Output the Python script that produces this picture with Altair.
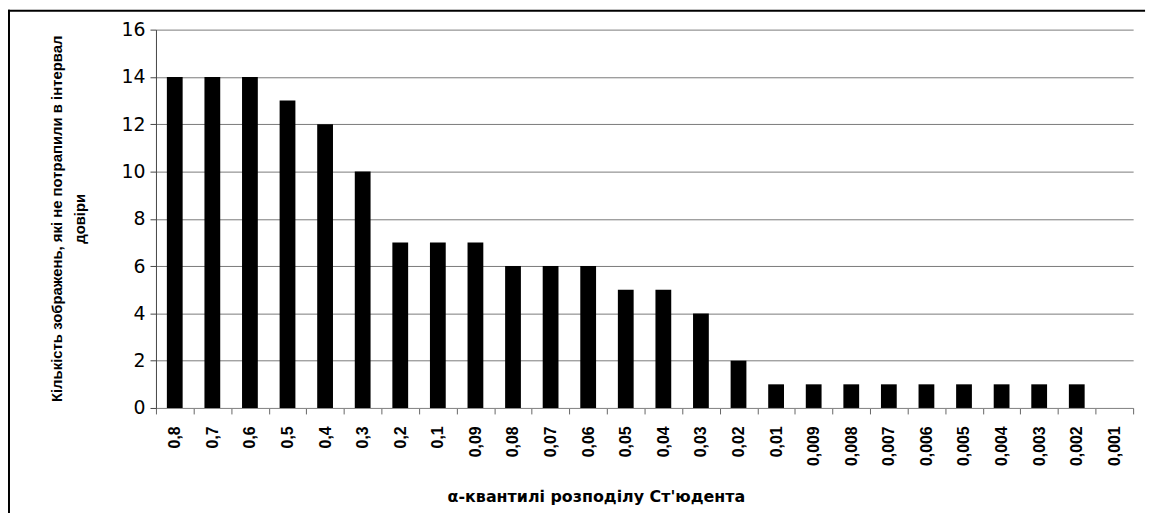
import altair as alt
import pandas as pd

quantiles = ["0,8", "0,7", "0,6", "0,5", "0,4", "0,3", "0,2", "0,1", "0,09", "0,08",
             "0,07", "0,06", "0,05", "0,04", "0,03", "0,02", "0,01", "0,009", "0,008",
             "0,007", "0,006", "0,005", "0,004", "0,003", "0,002", "0,001"]
counts = [14, 14, 14, 13, 12, 10, 7, 7, 7, 6, 6, 6, 5, 5, 4, 2, 1, 1, 1, 1, 1, 1, 1, 1, 1, 0]
y_ticks = [0, 2, 4, 6, 8, 10, 12, 14, 16]

x_title = "α-квантилі розподілу Ст'юдента"
y_title = ["Кількість зображень, які не потрапили в інтервал", "довіри"]

df = pd.DataFrame({"q": quantiles, "n": counts})

bars = alt.Chart(df).mark_bar(color="black", width=alt.RelativeBandSize(0.42)).encode(
    x=alt.X("q:N", sort=None,
            scale=alt.Scale(paddingInner=0, paddingOuter=0),
            axis=alt.Axis(title=x_title, labelAngle=-90, tickBand="extent",
                          labelFont="Liberation Sans", labelFontWeight="bold", labelFontSize=16,
                          labelColor="black", labelPadding=12,
                          tickSize=6, tickColor="#666", domainColor="#8a8a8a",
                          titleFont="DejaVu Sans", titleFontWeight="bold", titleFontSize=16,
                          titleColor="black", titleX=443, titleY=89,
                          titleBaseline="middle", titleAlign="center", grid=False)),
    y=alt.Y("n:Q",
            scale=alt.Scale(domain=[0, 16], nice=False),
            axis=alt.Axis(title=y_title, values=y_ticks, grid=True, gridColor="#7a7a7a",
                          labelFont="DejaVu Sans", labelFontSize=19, labelColor="black",
                          labelPadding=5, tickSize=6, tickColor="#444", domainColor="#444",
                          titleFont="Liberation Sans", titleFontWeight="bold", titleFontSize=15,
                          titleColor="black", titleLineHeight=23, titleAngle=-90,
                          titleX=-100, titleY=190, titleBaseline="middle", titleAlign="center")),
)

frame = pd.DataFrame({"k": [0]})
top_line = alt.Chart(frame).mark_rule(color="black", strokeWidth=2).encode(
    x=alt.value(-149), x2=alt.value(996), y=alt.value(-19))
left_line = alt.Chart(frame).mark_rule(color="black", strokeWidth=2).encode(
    x=alt.value(-148), y=alt.value(-20), y2=alt.value(500))

chart = alt.layer(bars, top_line, left_line).properties(
    width=984, height=381,
    autosize=alt.AutoSizeParams(type="none"),
    padding={"left": 149, "top": 20, "right": 20, "bottom": 104},
    background="white",
).configure_view(stroke=None)

chart.save("out.html", embed_options={"renderer": "svg", "actions": False})
